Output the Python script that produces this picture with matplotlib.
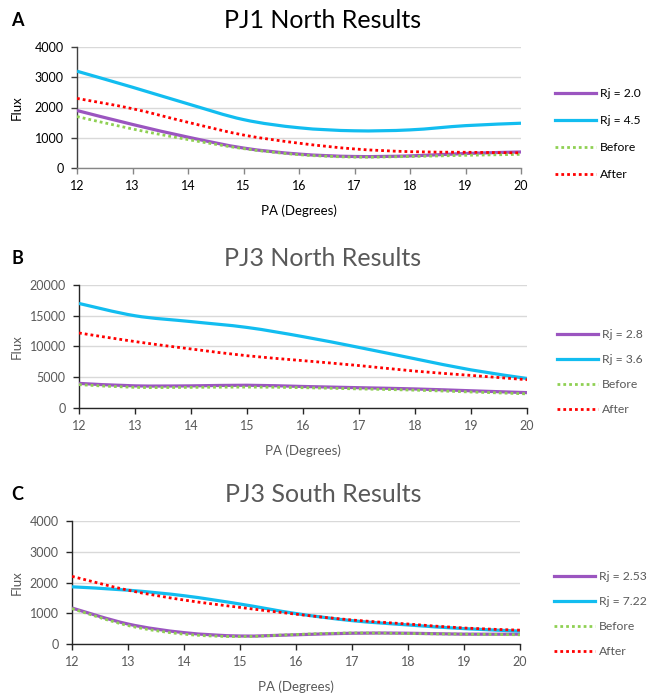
import matplotlib
matplotlib.use("Agg")
import matplotlib.pyplot as plt
from matplotlib.path import Path
from matplotlib.patches import PathPatch
import numpy as np

plt.rcParams['font.family'] = ['Lato', 'DejaVu Sans']

W, H = 647, 696

# PA (degrees) sample positions
pa = [12, 13, 14, 15, 16, 17, 18, 19, 20]

# PJ1 North
a_rj_lo = [1900, 1440, 1020, 660, 460, 380, 400, 480, 530]
a_rj_hi = [3200, 2670, 2120, 1600, 1330, 1230, 1260, 1400, 1480]
a_before = [1700, 1290, 940, 640, 440, 360, 380, 420, 450]
a_after = [2300, 1960, 1510, 1090, 820, 630, 540, 520, 500]

# PJ3 North
b_rj_lo = [4000, 3600, 3600, 3700, 3500, 3300, 3100, 2800, 2500]
b_rj_hi = [17000, 15000, 14050, 13100, 11600, 9850, 8000, 6200, 4800]
b_before = [3800, 3350, 3350, 3400, 3300, 3100, 2900, 2600, 2300]
b_after = [12200, 10800, 9600, 8500, 7700, 6900, 6000, 5300, 4600]

# PJ3 South
c_rj_lo = [1170, 650, 370, 260, 300, 350, 350, 320, 320]
c_rj_hi = [1860, 1750, 1570, 1300, 990, 760, 620, 500, 420]
c_before = [1150, 600, 320, 240, 310, 360, 340, 320, 300]
c_after = [2200, 1750, 1430, 1190, 970, 780, 650, 520, 450]

panels = [
    dict(letter="A", title="PJ1 North Results", labels=["Rj = 2.0", "Rj = 4.5", "Before", "After"],
         series=[a_rj_lo, a_rj_hi, a_before, a_after], ymax=4000, step=1000,
         box=(77, 47, 521, 168), title_y=20, leg=(555, 134), leg_sp=28, dark=True),
    dict(letter="B", title="PJ3 North Results", labels=["Rj = 2.8", "Rj = 3.6", "Before", "After"],
         series=[b_rj_lo, b_rj_hi, b_before, b_after], ymax=20000, step=5000,
         box=(79, 285, 527, 408), title_y=258, leg=(557, 372), leg_sp=26, dark=False),
    dict(letter="C", title="PJ3 South Results", labels=["Rj = 2.53", "Rj = 7.22", "Before", "After"],
         series=[c_rj_lo, c_rj_hi, c_before, c_after], ymax=4000, step=1000,
         box=(72, 521, 520, 644), title_y=494, leg=(554, 614), leg_sp=26, dark=False),
]

colors = ['#9B55C0', '#12BDF0', '#8FD053', '#FF0000']
styles = ['-', '-', (0, (1, 1.1)), (0, (1, 1.1))]
widths = [2.3, 2.3, 2.0, 2.0]


def smooth_path(x, y):
    # Excel-like smoothed line: Catmull-Rom segments as cubic Bezier curves
    pts = np.column_stack([x, y]).astype(float)
    n = len(pts)
    verts = [pts[0]]
    codes = [Path.MOVETO]
    for i in range(n - 1):
        p0 = pts[max(i - 1, 0)]
        p1 = pts[i]
        p2 = pts[i + 1]
        p3 = pts[min(i + 2, n - 1)]
        verts += [p1 + (p2 - p0) / 6, p2 - (p3 - p1) / 6, p2]
        codes += [Path.CURVE4] * 3
    return Path(verts, codes)


fig = plt.figure(figsize=(W / 100, H / 100), dpi=100)

for p in panels:
    l, t, r, b = p['box']
    ax = fig.add_axes([l / W, 1 - b / H, (r - l) / W, (b - t) / H])
    txt = '#000000' if p['dark'] else '#595959'

    handles = []
    for k, ys in enumerate(p['series']):
        patch = PathPatch(smooth_path(pa, ys), fill=False, edgecolor=colors[k],
                          lw=widths[k], linestyle=styles[k], zorder=3 + k,
                          capstyle='butt', joinstyle='round')
        ax.add_patch(patch)
        h, = ax.plot([], [], color=colors[k], lw=widths[k], linestyle=styles[k],
                     label=p['labels'][k])
        handles.append(h)

    ax.set_xlim(12, 20)
    ax.set_ylim(0, p['ymax'])
    ax.set_xticks(pa)
    ax.set_yticks(np.arange(0, p['ymax'] + 1, p['step']))
    ax.grid(axis='y', color='#D9D9D9', lw=1)
    ax.set_axisbelow(True)
    for s in ['top', 'right']:
        ax.spines[s].set_visible(False)
    if p['dark']:
        ax.spines['left'].set_color('#404040')
        ax.spines['bottom'].set_color('#868686')
        ax.tick_params(axis='y', colors='#404040')
        ax.tick_params(axis='x', colors='#868686')
    else:
        ax.spines['left'].set_color('#262626')
        ax.spines['bottom'].set_color('#262626')
        ax.tick_params(colors='#262626')
    ax.spines['left'].set_linewidth(1.0)
    ax.spines['bottom'].set_linewidth(1.0)
    ax.tick_params(direction='out', length=4, width=1, labelsize=9, labelcolor=txt)
    ax.tick_params(axis='x', pad=5)
    ax.tick_params(axis='y', pad=5.5)

    ax.set_xlabel("PA (Degrees)", fontsize=9.5, color=txt)
    ax.set_ylabel("Flux", fontsize=9.5, color=txt)
    ax.xaxis.label.set_va('center')
    ax.yaxis.label.set_va('center')
    aw, ah = r - l, b - t
    ax.xaxis.set_label_coords(0.5, -43 / ah)
    ax.yaxis.set_label_coords((17 - l) / aw, 0.5)

    fig.text(323 / W, 1 - p['title_y'] / H, p['title'], ha='center', va='center',
             fontsize=18, color=txt)
    fig.text(17 / W, 1 - (p['title_y'] + 1) / H, p['letter'], ha='center', va='center',
             fontsize=13, fontweight='bold', color='#000000')

    lx, ly = p['leg']
    fs = 8.7
    ax.legend(handles=handles, loc='center left',
              bbox_to_anchor=(lx / W, 1 - ly / H), bbox_transform=fig.transFigure,
              frameon=False, fontsize=fs, handlelength=3.4, handletextpad=0.3,
              labelspacing=(p['leg_sp'] - 12) / 12, borderpad=0, borderaxespad=0,
              labelcolor=txt)

fig.savefig("out.png", dpi=100)
